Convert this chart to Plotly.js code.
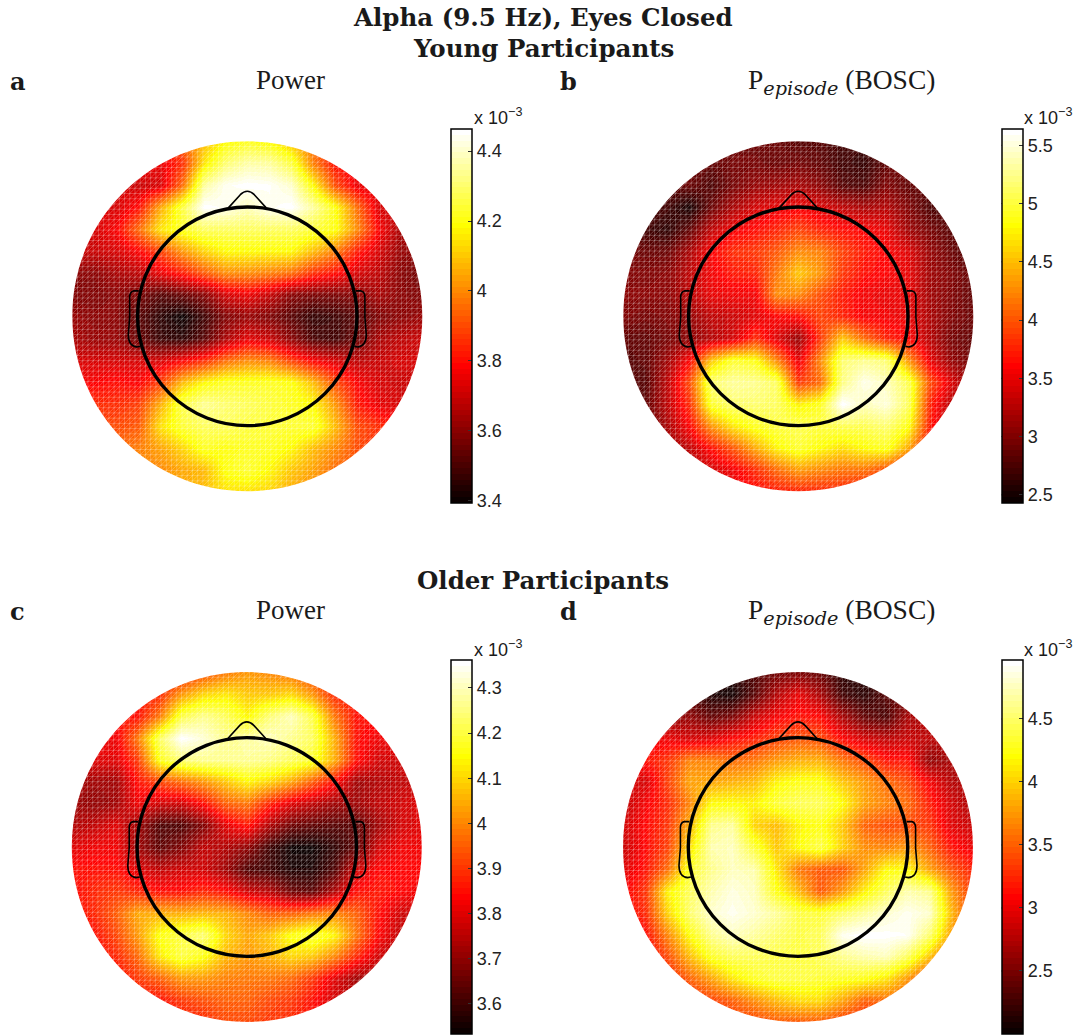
<!DOCTYPE html>
<html><head><meta charset="utf-8">
<script src="https://cdn.plot.ly/plotly-3.0.1.min.js"></script>
<style>html,body{margin:0;padding:0;background:#fff}</style></head>
<body><div id="chart" style="width:1079px;height:1036px"></div>
<script>
// Grid coordinates (scalp radius = 1)
const gridPos = [-1,-0.875,-0.75,-0.625,-0.5,-0.375,-0.25,-0.125,0,0.125,0.25,0.375,0.5,0.625,0.75,0.875,1];
// Rows run top (front of the head) to bottom, values in units of 10^-3
const youngPower = [
[3.80,3.80,3.80,3.80,3.85,3.95,4.08,4.18,4.22,4.18,4.08,3.95,3.85,3.80,3.80,3.80,3.80],
[3.78,3.78,3.78,3.78,3.75,3.85,4.15,4.30,4.36,4.35,4.25,3.98,3.80,3.75,3.75,3.75,3.75],
[3.72,3.72,3.72,3.70,3.72,3.95,4.35,4.44,4.46,4.45,4.40,4.18,3.90,3.75,3.72,3.72,3.72],
[3.72,3.72,3.72,3.80,4.05,4.25,4.46,4.44,4.38,4.44,4.46,4.35,4.20,3.95,3.72,3.70,3.70],
[3.72,3.72,3.78,3.95,4.15,4.22,4.28,4.28,4.28,4.28,4.28,4.24,4.20,4.00,3.78,3.65,3.65],
[3.70,3.70,3.72,3.78,3.88,4.02,4.12,4.18,4.18,4.18,4.18,4.08,3.98,3.82,3.72,3.62,3.60],
[3.60,3.60,3.65,3.68,3.75,3.82,3.92,4.00,4.00,3.98,3.95,3.85,3.80,3.72,3.68,3.60,3.55],
[3.58,3.58,3.60,3.58,3.52,3.55,3.60,3.72,3.76,3.70,3.60,3.58,3.58,3.60,3.65,3.60,3.58],
[3.62,3.60,3.60,3.52,3.45,3.40,3.48,3.58,3.62,3.58,3.52,3.46,3.48,3.52,3.58,3.60,3.62],
[3.65,3.62,3.62,3.55,3.47,3.45,3.52,3.65,3.74,3.70,3.60,3.50,3.48,3.55,3.65,3.68,3.70],
[3.72,3.72,3.72,3.72,3.72,3.78,3.85,3.95,4.00,3.98,3.88,3.78,3.72,3.68,3.70,3.72,3.72],
[3.78,3.78,3.80,3.78,3.88,4.08,4.18,4.22,4.22,4.22,4.20,4.08,3.90,3.78,3.72,3.70,3.70],
[3.85,3.85,3.85,3.88,4.06,4.26,4.34,4.30,4.28,4.25,4.22,4.18,4.02,3.82,3.75,3.72,3.72],
[3.90,3.90,3.90,3.92,4.14,4.24,4.28,4.28,4.25,4.24,4.24,4.24,4.08,3.90,3.85,3.80,3.80],
[3.95,3.95,3.95,3.98,4.04,4.12,4.22,4.20,4.22,4.22,4.18,4.08,4.00,3.90,3.85,3.85,3.85],
[4.00,4.00,4.00,4.00,4.00,4.05,4.08,4.20,4.24,4.18,4.10,4.04,3.95,3.90,3.90,3.90,3.90],
[4.05,4.05,4.05,4.05,4.05,4.05,4.08,4.14,4.14,4.12,4.05,4.00,3.95,3.95,3.95,3.95,3.95]
];
const youngEpisode = [
[2.90,2.90,2.90,2.90,2.85,2.90,2.90,2.90,2.80,2.80,2.70,2.70,2.80,2.90,2.90,2.90,2.90],
[2.90,2.90,2.90,2.90,2.85,2.95,2.95,2.90,2.95,2.85,2.70,2.65,2.85,2.90,2.90,2.90,2.90],
[2.90,2.90,2.85,2.90,2.75,2.95,3.10,3.15,3.20,3.05,2.80,2.75,3.00,2.85,2.80,2.80,2.80],
[2.80,2.80,2.70,2.50,2.90,3.20,3.40,3.50,3.55,3.45,3.30,3.20,3.25,3.00,2.75,2.70,2.70],
[2.80,2.70,2.60,2.85,3.30,3.55,3.65,3.75,3.90,3.75,3.65,3.60,3.50,3.15,2.95,2.80,2.75],
[2.95,2.90,2.90,3.20,3.60,3.80,3.85,4.00,4.25,4.20,3.90,3.70,3.60,3.45,3.10,2.90,2.70],
[3.00,3.00,3.05,3.30,3.55,3.70,3.75,4.15,4.55,4.30,3.85,3.65,3.60,3.50,3.15,3.00,2.85],
[3.05,3.05,3.05,3.30,3.50,3.55,3.55,4.25,4.25,3.95,3.70,3.55,3.50,3.50,3.15,3.00,2.85],
[3.00,2.95,3.00,3.10,3.30,3.35,3.45,3.60,3.65,3.90,3.75,3.55,3.55,3.50,3.20,3.00,2.90],
[2.85,2.85,2.95,3.05,3.25,3.40,3.80,3.45,3.10,3.85,4.55,4.10,3.75,3.60,3.25,2.95,2.85],
[2.80,2.85,3.15,3.60,4.55,4.95,4.85,4.25,3.50,4.25,5.15,5.25,5.15,4.30,3.50,3.10,2.90],
[2.75,2.80,3.30,3.95,5.15,5.30,5.25,5.10,3.85,4.10,5.20,5.55,5.40,5.05,3.95,3.45,3.00],
[2.75,2.85,3.30,3.80,4.95,5.15,5.15,5.10,4.75,4.90,5.64,5.40,5.50,5.10,3.75,3.25,3.00],
[2.75,2.85,3.20,3.60,4.30,4.70,4.90,5.00,5.05,5.00,5.05,5.05,5.15,4.85,3.70,3.20,3.00],
[2.80,2.90,3.10,3.30,3.65,4.00,4.40,4.75,4.95,4.80,4.65,4.80,4.90,4.40,3.55,3.20,3.00],
[2.90,3.00,3.10,3.20,3.40,3.55,3.80,4.10,4.35,4.25,4.15,4.15,3.95,3.60,3.40,3.20,3.10],
[3.00,3.10,3.20,3.30,3.40,3.50,3.60,3.70,3.75,3.75,3.75,3.65,3.60,3.50,3.40,3.30,3.20]
];
const olderPower = [
[3.85,3.85,3.85,3.85,3.85,3.85,3.92,3.98,4.02,4.00,3.97,3.90,3.85,3.85,3.85,3.85,3.85],
[3.85,3.85,3.85,3.85,3.88,4.02,4.10,4.12,4.08,4.08,4.10,4.02,3.88,3.85,3.85,3.85,3.85],
[3.85,3.85,3.85,3.85,3.98,4.20,4.26,4.22,4.14,4.24,4.30,4.20,3.98,3.85,3.85,3.85,3.85],
[3.82,3.82,3.82,3.98,4.22,4.36,4.32,4.26,4.28,4.30,4.26,4.22,4.05,3.85,3.82,3.82,3.82],
[3.80,3.80,3.80,3.90,4.16,4.24,4.26,4.26,4.27,4.25,4.22,4.18,4.05,3.85,3.78,3.78,3.78],
[3.72,3.72,3.72,3.85,3.92,3.97,4.02,4.08,4.14,4.10,4.04,3.95,3.85,3.72,3.74,3.76,3.76],
[3.72,3.70,3.72,3.82,3.78,3.78,3.85,3.95,3.98,3.88,3.80,3.76,3.72,3.72,3.76,3.78,3.80],
[3.74,3.76,3.80,3.72,3.62,3.62,3.68,3.80,3.86,3.74,3.66,3.64,3.63,3.63,3.72,3.78,3.80],
[3.80,3.82,3.82,3.72,3.64,3.68,3.76,3.74,3.70,3.60,3.54,3.54,3.58,3.64,3.78,3.82,3.82],
[3.85,3.85,3.85,3.80,3.76,3.78,3.78,3.72,3.62,3.60,3.56,3.56,3.62,3.78,3.84,3.84,3.84],
[3.84,3.88,3.90,3.88,3.85,3.85,3.88,3.85,3.78,3.75,3.66,3.64,3.74,3.85,3.86,3.84,3.82],
[3.85,3.88,3.95,4.04,4.05,4.05,4.06,4.05,4.00,3.95,3.95,3.98,4.00,3.95,3.85,3.78,3.76],
[3.80,3.85,3.92,4.02,4.16,4.20,4.24,4.10,4.04,4.08,4.16,4.20,4.14,3.98,3.84,3.76,3.74],
[3.80,3.84,3.88,3.96,4.12,4.20,4.16,4.06,4.02,4.05,4.10,4.08,4.00,3.88,3.78,3.72,3.72],
[3.80,3.80,3.84,3.90,3.95,4.02,4.02,3.99,3.98,3.98,3.96,3.90,3.80,3.72,3.72,3.72,3.72],
[3.80,3.80,3.82,3.84,3.85,3.90,3.93,3.95,3.95,3.92,3.90,3.85,3.78,3.75,3.72,3.72,3.72],
[3.82,3.82,3.82,3.84,3.85,3.86,3.88,3.92,3.92,3.90,3.88,3.85,3.80,3.78,3.75,3.75,3.75]
];
const olderEpisode = [
[2.20,2.20,2.20,2.20,2.20,2.15,2.30,2.45,2.50,2.40,2.15,2.10,2.20,2.30,2.30,2.30,2.30],
[2.30,2.30,2.30,2.30,2.10,2.05,2.35,2.75,3.00,2.70,2.25,2.15,2.35,2.40,2.40,2.40,2.40],
[2.60,2.60,2.60,2.60,2.40,2.50,2.85,3.05,3.15,3.10,2.70,2.40,2.30,2.70,2.70,2.70,2.70],
[3.00,3.00,3.00,2.90,2.95,3.10,3.20,3.35,3.45,3.40,3.10,2.90,2.80,2.85,2.80,2.75,2.75],
[3.10,3.15,3.30,3.65,3.65,3.55,3.60,3.75,3.85,3.85,3.60,3.40,3.15,3.15,2.60,2.70,2.70],
[2.90,2.90,3.35,3.80,3.80,3.85,3.90,4.15,4.25,4.25,3.95,3.75,3.55,3.40,3.05,2.75,2.70],
[2.80,3.05,3.25,3.65,4.20,4.20,4.15,4.35,4.45,4.45,4.20,3.80,3.65,3.55,3.20,2.90,2.70],
[2.90,3.10,3.30,3.85,4.60,4.65,4.00,3.90,4.15,4.25,3.95,3.50,3.40,3.40,3.30,2.95,2.85],
[2.85,3.10,3.35,4.05,4.70,4.75,4.35,3.95,4.20,4.40,4.00,3.70,3.65,3.75,3.50,3.15,3.00],
[2.95,3.15,3.55,4.30,4.60,4.75,4.70,4.10,3.60,3.45,3.45,3.80,4.20,4.20,3.80,3.45,3.20],
[3.05,3.30,4.15,4.45,4.70,4.85,4.75,4.25,3.90,3.45,3.75,4.15,4.45,4.70,4.60,3.75,3.30],
[3.05,3.25,4.00,4.50,4.80,4.90,4.80,4.65,4.40,4.35,4.50,4.65,4.80,4.90,4.80,3.90,3.30],
[2.95,3.10,3.65,4.20,4.60,4.75,4.65,4.50,4.40,4.45,4.90,4.97,4.95,4.92,4.50,3.75,3.25],
[2.90,3.00,3.40,3.90,4.30,4.45,4.45,4.40,4.35,4.45,4.60,4.70,4.75,4.45,3.95,3.40,3.00],
[2.90,2.95,3.20,3.50,3.80,4.10,4.30,4.40,4.40,4.35,4.30,4.25,4.10,3.75,3.30,3.00,2.90],
[2.90,2.95,3.10,3.20,3.35,3.50,3.70,3.90,4.05,4.05,3.80,3.50,3.55,3.45,3.20,3.00,2.90],
[2.90,2.95,3.00,3.10,3.20,3.30,3.35,3.45,3.45,3.45,3.30,3.20,3.20,3.20,3.10,3.00,2.90]
];
// Colour ranges and tick labels
const panelNames = ['a','b','c','d'];
const zRanges = [[3.394,4.463],[2.43,5.64],[3.533,4.362],[2.0,4.968]];
const tickVals = [[3.4,3.6,3.8,4,4.2,4.4],[2.5,3,3.5,4,4.5,5,5.5],[3.6,3.7,3.8,3.9,4,4.1,4.2,4.3],[2.5,3,3.5,4,4.5]];
const tickLabels = [['3.4','3.6','3.8','4','4.2','4.4'],['2.5','3','3.5','4','4.5','5','5.5'],['3.6','3.7','3.8','3.9','4','4.1','4.2','4.3'],['2.5','3','3.5','4','4.5']];
const maps = [youngPower,youngEpisode,olderPower,olderEpisode];

const W=1079,H=1036,R=175;
const centers=[[247.3,316.3],[798.3,316.3],[246.8,847],[798,847]];
const barX=[451,1001.5,451,1001.5], barTop=[129,129,660,660], barLen=374, barW=21;

// MATLAB "hot" with 64 discrete levels
const hot=[];
for(let i=0;i<64;i++){
  const r=Math.min(1,(i+1)/24), g=Math.max(0,Math.min(1,(i-23)/24)), b=Math.max(0,(i-47)/16);
  const c=`rgb(${Math.round(r*255)},${Math.round(g*255)},${Math.round(b*255)})`;
  hot.push([i/64,c]); hot.push([(i+1)/64,c]);
}
const k=0.5523;
const circlePath=(r)=>`M${r},0 C${r},${k*r} ${k*r},${r} 0,${r} C${-k*r},${r} ${-r},${k*r} ${-r},0 C${-r},${-k*r} ${-k*r},${-r} 0,${-r} C${k*r},${-r} ${r},${-k*r} ${r},0 Z`;
let meshPath='';
const N=67, st=2/N;
for(let i=0;i<=N;i++){
  const p=(-1+i*st).toFixed(4);
  meshPath+=`M${p},-1 L${p},1 M-1,${p} L1,${p} `;
}
for(let i=-N+1;i<N;i++){
  const a=i*st;
  const x0=Math.max(-1,-1-a), x1=Math.min(1,1-a);
  meshPath+=`M${x0.toFixed(4)},${(x0+a).toFixed(4)} L${x1.toFixed(4)},${(x1+a).toFixed(4)} `;
}
const noseEars=[
 'M-0.107,0.621 L-0.04,0.695 Q-0.02,0.715 0,0.715 Q0.02,0.715 0.04,0.695 L0.107,0.621',
 'M-0.621,0.145 L-0.650,0.145 Q-0.672,0.140 -0.672,0.110 L-0.672,-0.004 L-0.680,-0.105 Q-0.680,-0.170 -0.630,-0.175 L-0.612,-0.171',
 'M0.621,0.145 L0.650,0.145 Q0.672,0.140 0.672,0.110 L0.672,-0.004 L0.680,-0.105 Q0.680,-0.170 0.630,-0.175 L0.612,-0.171'
];

const traces=[],shapes=[],layout={width:W,height:H,margin:{l:0,r:0,t:0,b:0},paper_bgcolor:'#fff',plot_bgcolor:'#fff',showlegend:false};
maps.forEach((z,n)=>{
  const s=n===0?'':String(n+1), xr='x'+s, yr='y'+s;
  const [cx,cy]=centers[n];
  // whole-pixel plot box slightly larger than the scalp disc
  const L=Math.floor(cx-R-4), Rt=Math.ceil(cx+R+4), T=Math.floor(cy-R-4), B=Math.ceil(cy+R+4);
  layout['xaxis'+s]={domain:[L/W,Rt/W],range:[(L-cx)/R,(Rt-cx)/R],visible:false,fixedrange:true,anchor:yr};
  layout['yaxis'+s]={domain:[1-B/H,1-T/H],range:[(cy-B)/R,(cy-T)/R],visible:false,fixedrange:true,anchor:xr};
  traces.push({type:'heatmap',x:gridPos,y:gridPos,z:z.slice().reverse(),xaxis:xr,yaxis:yr,zsmooth:'best',
    zmin:zRanges[n][0],zmax:zRanges[n][1],colorscale:hot,hoverinfo:'skip',
    colorbar:{x:barX[n]/W,xanchor:'left',xpad:0,y:1-barTop[n]/H,yanchor:'top',ypad:0,thickness:barW,thicknessmode:'pixels',
      len:barLen,lenmode:'pixels',outlinecolor:'#000',outlinewidth:1.5,borderwidth:0,ticks:'inside',ticklen:4,tickwidth:1,tickcolor:'#333',
      tickmode:'array',tickvals:tickVals[n],ticktext:tickLabels[n],tickfont:{family:'Liberation Sans',size:18,color:'#222'}}});
  shapes.push({type:'path',xref:xr,yref:yr,path:meshPath,line:{color:'rgba(255,255,255,0.3)',width:0.8},layer:'above'});
  shapes.push({type:'path',xref:xr,yref:yr,path:'M-1.2,-1.2 L1.2,-1.2 L1.2,1.2 L-1.2,1.2 Z '+circlePath(1),fillcolor:'#fff',fillrule:'evenodd',line:{width:0},layer:'above'});
  noseEars.forEach(p=>shapes.push({type:'path',xref:xr,yref:yr,path:p,line:{color:'#000',width:1.6},layer:'above'}));
  shapes.push({type:'circle',xref:xr,yref:yr,x0:-0.627,x1:0.627,y0:-0.625,y1:0.625,line:{color:'#000',width:3.4},layer:'above'});
  // matching tick marks on the left edge of the colour bar
  const [lo,hi]=zRanges[n];
  tickVals[n].forEach(v=>{
    const py=barTop[n]+barLen*(hi-v)/(hi-lo);
    shapes.push({type:'line',xref:'paper',yref:'paper',x0:barX[n]/W,x1:(barX[n]+4)/W,y0:1-py/H,y1:1-py/H,line:{color:'#333',width:1}});
  });
});
layout.shapes=shapes;
const ann=(text,x,y,size,family,anchor)=>({text,x:x/W,y:1-y/H,xref:'paper',yref:'paper',xanchor:anchor||'center',yanchor:'middle',showarrow:false,font:{family,size,color:'#1a1a1a'}});
const serif='Liberation Serif',serifB='DejaVu Serif',sans='Liberation Sans';
const pep='P<sub><span style="font-family:DejaVu Serif;font-style:italic">episode</span></sub> (BOSC)';
layout.annotations=[
 ann('<b>Alpha (9.5 Hz), Eyes Closed</b>',543,18,24.5,serifB),
 ann('<b>Young Participants</b>',543,48,24.5,serifB),
 ann('<b>Older Participants</b>',543,580,24.5,serifB),
 ann('<b>a</b>',8,81,24,serifB,'left'),ann('<b>b</b>',558,81,24,serifB,'left'),
 ann('<b>c</b>',8,611,24,serifB,'left'),ann('<b>d</b>',558,611,24,serifB,'left'),
 ann('Power',290.5,80,27,serif),ann('Power',290.5,610,27,serif),
 ann(pep,841,82,27.5,serif),ann(pep,841,612,27.5,serif),
 ann('x 10<sup>−3</sup>',472,117,18,sans,'left'),ann('x 10<sup>−3</sup>',1022,117,18,sans,'left'),
 ann('x 10<sup>−3</sup>',472,648,18,sans,'left'),ann('x 10<sup>−3</sup>',1022,648,18,sans,'left')
];
Plotly.newPlot('chart',traces,layout,{displayModeBar:false,staticPlot:true});
</script></body></html>
